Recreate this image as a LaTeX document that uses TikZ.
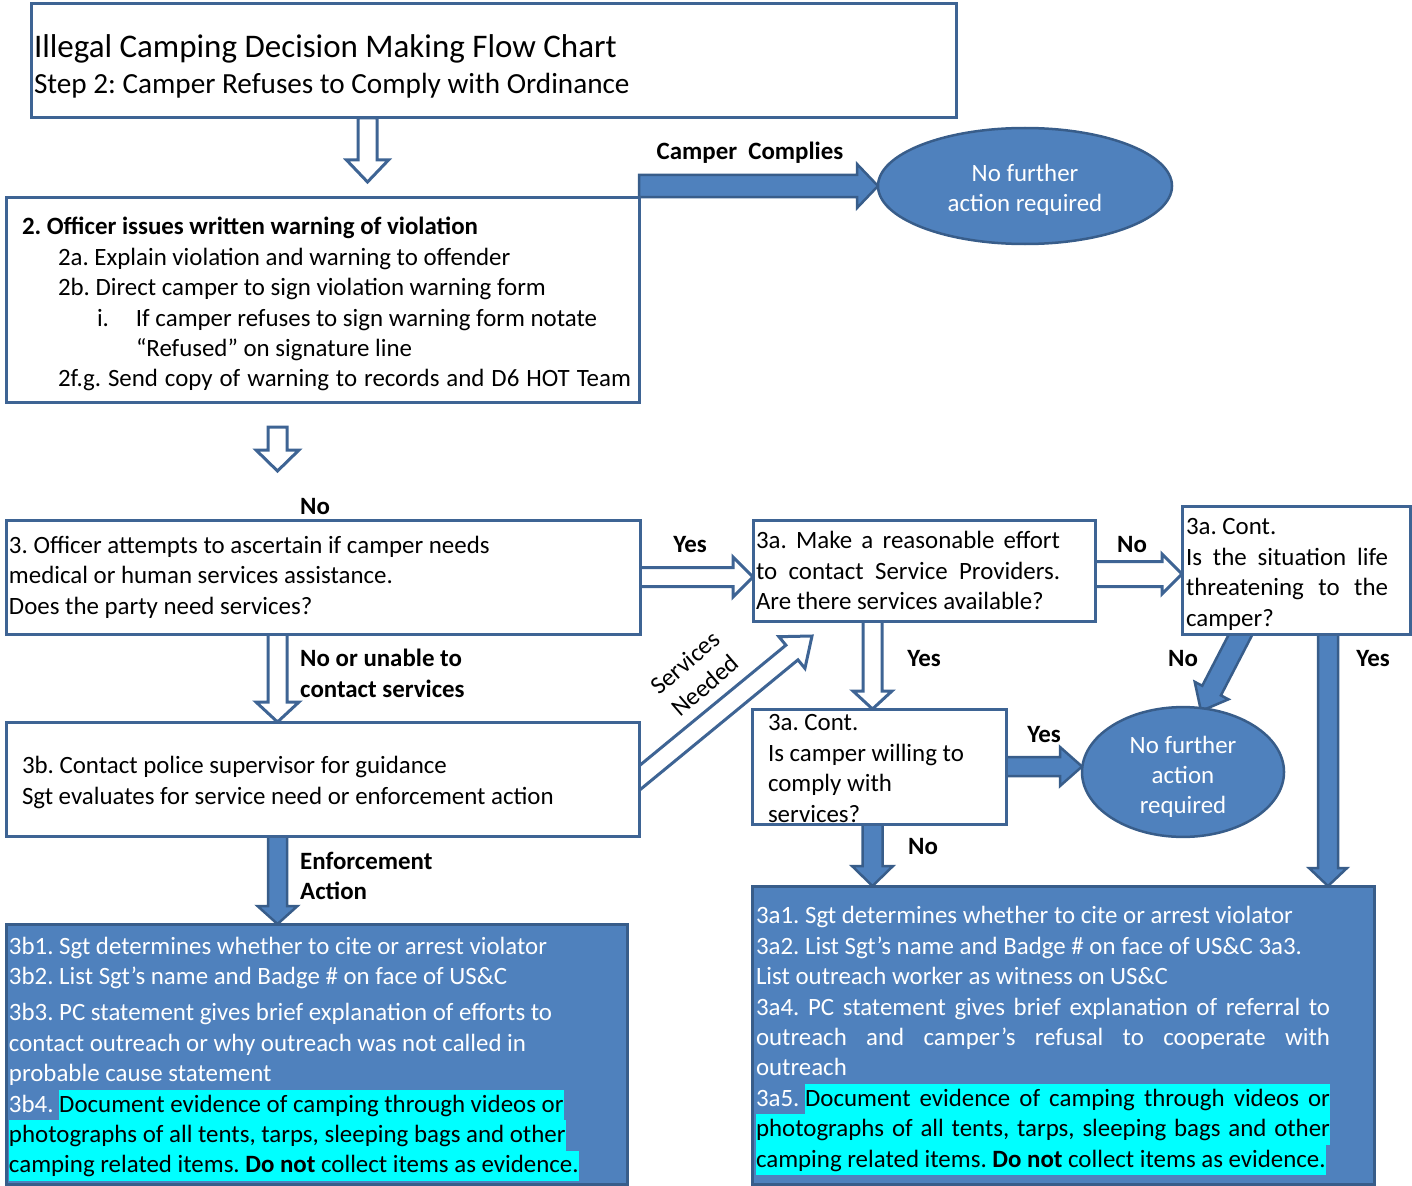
\documentclass[tikz,border=0pt]{standalone}
\usepackage{fontspec}
\setmainfont{Carlito}
\usetikzlibrary{calc,shapes.geometric}
\pgfdeclarelayer{bg}
\pgfsetlayers{bg,main}
\definecolor{bord}{RGB}{62,100,148}
\definecolor{fillb}{RGB}{79,129,189}
\definecolor{fbord}{RGB}{56,93,138}
\definecolor{hlc}{RGB}{0,255,255}
\newcommand\bodyfont{\fontsize{24.9}{30.4}\selectfont}
\newcommand\natsp{\spaceskip=0pt\xspaceskip=0pt\frenchspacing\relax}
\newcommand\jl[2]{\leavevmode\hbox to #1pt{#2}}
\newcommand\hlstrut{\rule[-8pt]{0pt}{30.4pt}}
\newcommand\hltext[1]{\leavevmode{\setlength\fboxsep{0pt}\colorbox{hlc}{\hlstrut\color{black}#1}}}
\newlength\hlw
\newcommand\hlrest[3]{\leavevmode\settowidth\hlw{#1}\hbox to #2pt{#1\hltext{\hbox to \dimexpr#2pt-\hlw\relax{#3}}}}
\newcommand\barrow[6][]{%
  \coordinate (bah) at ($(#3)!#6!(#2)$);
  \draw[#1] ($(#2)!#4!90:(#3)$) -- ($(bah)!#4!90:(#3)$) -- ($(bah)!#5!90:(#3)$) -- (#3)
    -- ($(bah)!#5!-90:(#3)$) -- ($(bah)!#4!-90:(#3)$) -- ($(#2)!#4!-90:(#3)$) -- cycle;
}
\tikzset{
  every node/.style={execute at begin node=\natsp},
  box/.style={draw=bord, line width=3pt, fill=white, anchor=north west, inner sep=0pt, outer sep=0pt, align=left, font=\bodyfont},
  bbox/.style={draw=fbord, line width=3pt, fill=fillb, anchor=north west, inner sep=0pt, outer sep=0pt, align=left, font=\bodyfont, text=white},
  oval/.style={ellipse, draw=fbord, line width=2.5pt, fill=fillb, text=white, align=center, font=\bodyfont, inner sep=0pt, outer sep=0pt},
  lbl/.style={font=\bodyfont\bfseries, inner sep=0pt},
  hollow/.style={draw=bord, line width=3pt, fill=white},
  filledarr/.style={draw=fbord, line width=2.5pt, fill=fillb},
}
\begin{document}
\begin{tikzpicture}[x=1pt,y=-1pt]
\useasboundingbox (0,0) rectangle (1412,1185);

% boxes
\node[box, minimum width=925pt, minimum height=114pt, text width=919pt] (title) at (31,4)
  {{\fontsize{33}{37}\selectfont\rule{0pt}{33pt}Illegal Camping Decision Making Flow Chart\par}%
   {\fontsize{29.2}{36}\selectfont Step 2: Camper Refuses to Comply with Ordinance\par}};

\node[box, minimum width=633pt, minimum height=205pt, text width=633pt] (b2) at (6,197)
  {{\bfseries\hspace*{16pt}\rule{0pt}{27pt}2. Officer issues written warning of violation}\\
   \hspace*{52pt}2a. Explain violation and warning to offender\\
   \hspace*{52pt}2b. Direct camper to sign violation warning form\\
   \hspace*{91pt}\makebox[39pt][l]{i.}If camper refuses to sign warning form notate\\
   \hspace*{130pt}“Refused” on signature line\\
   \hspace*{52pt}\jl{573}{2f.g. Send copy of warning to records and D6 HOT Team}};

\node[box, minimum width=634pt, minimum height=114pt, text width=628pt] (b3) at (6,520)
  {3. Officer attempts to ascertain if camper needs\\
   medical or human services assistance.\\
   Does the party need services?};

\node[box, minimum width=342pt, minimum height=101pt, text width=336pt] (b3a) at (753,520)
  {\jl{304}{3a. Make a reasonable effort}\\
   \jl{304}{to contact Service Providers.}\\
   Are there services available?};

\node[box, minimum width=228pt, minimum height=128pt, text width=220pt] (b3ar) at (1182,506)
  {\rule{0pt}{25pt}3a. Cont.\\
   \jl{202}{Is the situation life}\\
   \jl{202}{threatening to the}\\
   camper?};

\node[box, minimum width=254pt, minimum height=115pt, text width=222pt] (b3c) at (752,709)
  {\rule{0pt}{20pt}3a. Cont.\\
   Is camper willing to\\
   comply with\\
   services?};

\node[box, minimum width=633pt, minimum height=114pt, text width=601pt] (b3b) at (6,722)
  {\rule{0pt}{24pt}3b. Contact police supervisor for guidance\\
   Sgt evaluates for service need or enforcement action};

\node[bbox, minimum width=621pt, minimum height=260pt, text width=615pt] (b3b1) at (6,924)
  {\rule{0pt}{27pt}3b1. Sgt determines whether to cite or arrest violator\\
   3b2. List Sgt’s name and Badge \# on face of US\&C\\[6pt]
   3b3. PC statement gives brief explanation of efforts to\\
   contact outreach or why outreach was not called in\\
   probable cause statement\\
   3b4.\ \hltext{Document evidence of camping through videos or}\\
   \hltext{photographs of all tents, tarps, sleeping bags and other}\\
   \hltext{camping related items. \textbf{Do not} collect items as evidence.}};

\node[bbox, minimum width=622pt, minimum height=298pt, text width=614pt] (b3a1) at (752,886)
  {\rule{0pt}{29pt}3a1. Sgt determines whether to cite or arrest violator\\
   3a2. List Sgt’s name and Badge \# on face of US\&C 3a3.\\
   List outreach worker as witness on US\&C\\
   \jl{574}{3a4. PC statement gives brief explanation of referral to}\\
   \jl{574}{outreach and camper’s refusal to cooperate with}\\
   outreach\\
   \hlrest{3a5.\ }{574}{Document evidence of camping through videos or}\\
   \hltext{\jl{574}{photographs of all tents, tarps, sleeping bags and other}}\\
   \hltext{camping related items. \textbf{Do not} collect items as evidence.}};

% ellipses
\node[oval, minimum width=294pt, minimum height=116pt] (e1) at (1025,186) {\rule{0pt}{25pt}No further\\action required};
\node[oval, minimum width=202pt, minimum height=126pt] (e2) at (1183,772)
  {\fontsize{24.9}{29}\selectfont\rule{0pt}{27pt}No further\\action\\required};

% labels
\node[lbl] (lcc) at (750,153) {Camper\ \ Complies};
\node[lbl] (lno1) at (315,507) {No};
\node[lbl] (lyes1) at (690,545) {Yes};
\node[lbl] (lno2) at (1132,545) {No};
\node[lbl, anchor=west, align=left] (lnou) at (300,673.5) {No or unable to\\contact services};
\node[font=\bodyfont, rotate=41, align=center, inner sep=0pt] (lsn) at (695,674) {Services\\Needed};
\node[lbl] (lyes2) at (924,659) {Yes};
\node[lbl] (lno3) at (1183,659) {No};
\node[lbl] (lyes3) at (1373,659) {Yes};
\node[lbl] (lyes4) at (1044,735) {Yes};
\node[lbl] (lno4) at (923,847) {No};
\node[lbl, anchor=west, align=left] (lea) at (300,876) {Enforcement\\Action};

% helper coordinates
\coordinate (a1e) at (367.5,182);
\coordinate (a2s) at (277.5,427);
\coordinate (a2e) at (277.5,471);
\coordinate (a4s) at ([yshift=-3.5pt]b3a.east);
\coordinate (a5x) at (277.5,0);
\coordinate (a6s) at (615,798);
\coordinate (a6e) at (812,636);
\coordinate (a7x) at (872.5,0);
\coordinate (a9s) at (1245,626);
\coordinate (a9e) at (1201,711);
\coordinate (a10x) at (1328,0);

\begin{pgfonlayer}{bg}
\barrow[hollow]{a1e |- title.south}{a1e}{9.5pt}{21pt}{22pt}
\barrow[hollow]{a2s}{a2e}{9.5pt}{21.5pt}{21pt}
\barrow[hollow]{b3.east}{b3.east -| b3a.west}{9.5pt}{20pt}{20pt}
\barrow[hollow]{a4s}{a4s -| b3ar.west}{12.5pt}{20pt}{20pt}
\barrow[hollow]{a5x |- b3.south}{a5x |- b3b.north}{9.5pt}{21.5pt}{20pt}
\barrow[hollow]{a6s}{a6e}{9.5pt}{20.5pt}{26pt}
\barrow[hollow]{a7x |- b3a.south}{a7x |- b3c.north}{9.5pt}{19.5pt}{18pt}
\barrow[filledarr]{b3c.east}{b3c.east -| e2.west}{9.5pt}{19.5pt}{22pt}
\barrow[filledarr]{a9s}{a9e}{10.5pt}{19pt}{23pt}
\barrow[filledarr]{a10x |- b3ar.south}{a10x |- b3a1.north}{10pt}{19pt}{18pt}
\barrow[filledarr]{a7x |- b3c.south}{a7x |- b3a1.north}{10pt}{20.5pt}{20pt}
\barrow[filledarr]{a5x |- b3b.south}{a5x |- b3b1.north}{9.5pt}{20pt}{18pt}
\barrow[filledarr]{b2.east |- e1.west}{e1.west}{11pt}{22pt}{21pt}
\end{pgfonlayer}
\end{tikzpicture}
\end{document}
